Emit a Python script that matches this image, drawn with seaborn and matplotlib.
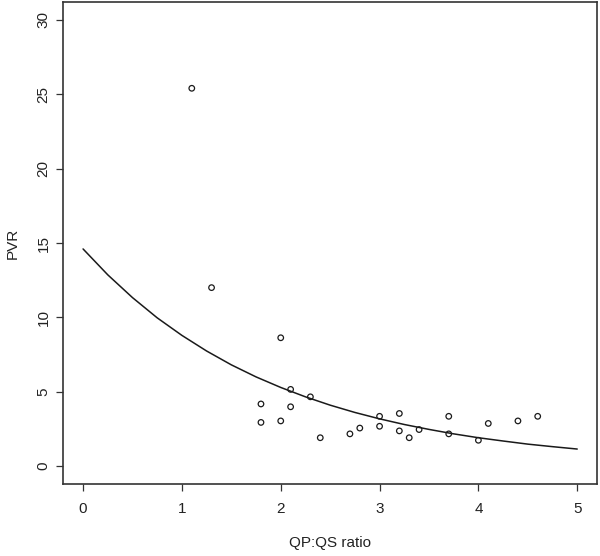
import matplotlib
matplotlib.use("Agg")
import matplotlib.pyplot as plt
import seaborn as sns
import pandas as pd

# Scatter data (QP:QS ratio vs PVR)
qp_qs = [1.1, 1.3, 2.0, 2.1, 2.3, 1.8, 2.1, 1.8, 2.0, 2.4, 2.7, 2.8,
         3.0, 3.0, 3.2, 3.2, 3.3, 3.4, 3.7, 3.7, 4.0, 4.1, 4.4, 4.6]
pvr = [25.4, 12.0, 8.63, 5.16, 4.66, 4.18, 3.99, 2.94, 3.04, 1.91, 2.17, 2.56,
       3.35, 2.68, 3.54, 2.37, 1.91, 2.46, 3.35, 2.17, 1.74, 2.87, 3.04, 3.35]

# Fitted curve, values
curve_x = [0.0, 0.25, 0.5, 0.75, 1.0, 1.25, 1.5, 1.75, 2.0, 2.25, 2.5,
           2.75, 3.0, 3.25, 3.5, 3.75, 4.0, 4.25, 4.5, 4.75, 5.0]
curve_y = [14.6, 12.86, 11.33, 9.97, 8.79, 7.74, 6.81, 6.00, 5.29, 4.66, 4.10,
           3.61, 3.18, 2.80, 2.47, 2.17, 1.91, 1.69, 1.48, 1.31, 1.15]

x_ticks = [0, 1, 2, 3, 4, 5]
y_ticks = [0, 5, 10, 15, 20, 25, 30]

sns.set_style("white")
plt.rcParams['font.family'] = ['Liberation Sans', 'DejaVu Sans']

pts = pd.DataFrame({"QP:QS ratio": qp_qs, "PVR": pvr})
fit = pd.DataFrame({"x": curve_x, "y": curve_y})

fig = plt.figure(figsize=(6.0, 5.56), dpi=100)
ax = fig.add_axes([63.3 / 600, 1 - 484 / 556, (597 - 63.3) / 600, (484 - 2) / 556])

sns.lineplot(data=fit, x="x", y="y", ax=ax, color="#1a1a1a", linewidth=1.1,
             sort=False)
sns.scatterplot(data=pts, x="QP:QS ratio", y="PVR", ax=ax, marker="o",
                s=16, facecolor="none", edgecolor="#1a1a1a", linewidth=0.9)

ax.set_xlim(-0.2, 5.2)
ax.set_ylim(-1.2, 31.2)
ax.set_xticks(x_ticks)
ax.set_yticks(y_ticks)
ax.set_xticklabels([str(t) for t in x_ticks])
ax.set_yticklabels([str(t) for t in y_ticks], rotation=90, va="center")

for sp in ax.spines.values():
    sp.set_visible(True)
    sp.set_color("#333333")
    sp.set_linewidth(1.2)

ax.tick_params(axis="both", which="major", direction="out", length=5.2,
               width=0.9, color="#333333", labelsize=11, labelcolor="#222222",
               bottom=True, left=True)
ax.tick_params(axis="x", pad=8)
ax.tick_params(axis="y", pad=4)

ax.set_xlabel("QP:QS ratio", fontsize=11, color="#222222", labelpad=14)
ax.set_ylabel("PVR", fontsize=11, color="#222222", labelpad=12)
ax.grid(False)

fig.savefig("out.png", dpi=100, facecolor="white")
